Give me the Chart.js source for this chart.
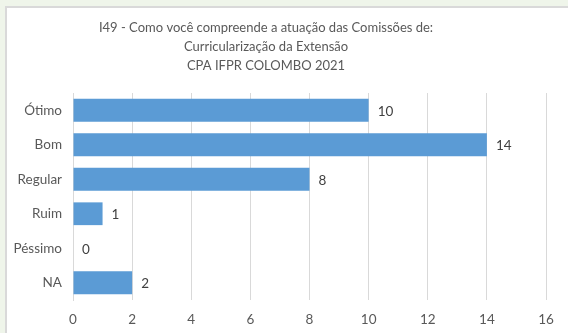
<!DOCTYPE html>
<html>
<head>
<meta charset="utf-8">
<script src="https://cdn.jsdelivr.net/npm/chart.js@4"></script>
<style>
  html, body { margin: 0; padding: 0; background: #eff5ea; }
  #wrap { position: absolute; left: 0; top: 0; width: 568px; height: 333px; }
</style>
</head>
<body>
<div id="wrap"><canvas id="chart" width="568" height="333"></canvas></div>
<script>
const categories = ['Ótimo', 'Bom', 'Regular', 'Ruim', 'Péssimo', 'NA'];
const counts = [10, 14, 8, 1, 0, 2];
const titleLines = [
    'I49 - Como você compreende a atuação das Comissões de:',
    'Curricularização da Extensão',
    'CPA IFPR COLOMBO 2021'
];
const FONT = 'Lato, "Open Sans", sans-serif';

// frame: green surround, white panel with grey border
const framePlugin = {
    id: 'frame',
    beforeDraw(chart) {
        const ctx = chart.ctx;
        ctx.save();
        ctx.fillStyle = '#eff5ea';
        ctx.fillRect(0, 0, chart.width, chart.height);
        ctx.fillStyle = '#ffffff';
        ctx.fillRect(5, 6, chart.width - 5, chart.height - 6);
        ctx.fillStyle = '#d9d9d9';
        ctx.fillRect(5, 6, chart.width - 5, 2);
        ctx.fillRect(5, 6, 2, chart.height - 6);
        ctx.restore();
    }
};

const titlePlugin = {
    id: 'titleText',
    afterDraw(chart) {
        const ctx = chart.ctx;
        ctx.save();
        ctx.font = '13px ' + FONT;
        ctx.fillStyle = '#595959';
        ctx.textAlign = 'center';
        ctx.textBaseline = 'middle';
        titleLines.forEach((line, i) => ctx.fillText(line, 266, 28 + i * 19));
        ctx.restore();
    }
};

const valueLabels = {
    id: 'valueLabels',
    afterDatasetsDraw(chart) {
        const ctx = chart.ctx;
        const meta = chart.getDatasetMeta(0);
        ctx.save();
        ctx.font = '13.5px ' + FONT;
        ctx.fillStyle = '#404040';
        ctx.textAlign = 'left';
        ctx.textBaseline = 'middle';
        meta.data.forEach((bar, i) => {
            ctx.fillText(String(counts[i]), bar.x + 9, bar.y + 1);
        });
        ctx.restore();
    }
};

new Chart(document.getElementById('chart'), {
    type: 'bar',
    data: {
        labels: categories,
        datasets: [{
            data: counts,
            backgroundColor: '#5b9bd5',
            borderWidth: 0,
            categoryPercentage: 1,
            barPercentage: 0.66
        }]
    },
    options: {
        indexAxis: 'y',
        responsive: false,
        animation: false,
        layout: { padding: { left: 0, top: 93, right: 22, bottom: 0 } },
        plugins: {
            legend: { display: false },
            title: { display: false },
            tooltip: { enabled: false }
        },
        scales: {
            x: {
                min: 0,
                max: 16,
                ticks: { stepSize: 2, color: '#595959', font: { family: FONT, size: 13.5 }, padding: 12 },
                grid: { color: '#d9d9d9', drawTicks: false },
                border: { display: false },
                afterFit(scale) { scale.height = 33; }
            },
            y: {
                ticks: { color: '#595959', font: { family: FONT, size: 13.5 }, padding: 11 },
                grid: { display: false, drawTicks: false },
                border: { color: '#d9d9d9' },
                afterFit(scale) { scale.width = 73; }
            }
        }
    },
    plugins: [framePlugin, titlePlugin, valueLabels]
});
</script>
</body>
</html>
